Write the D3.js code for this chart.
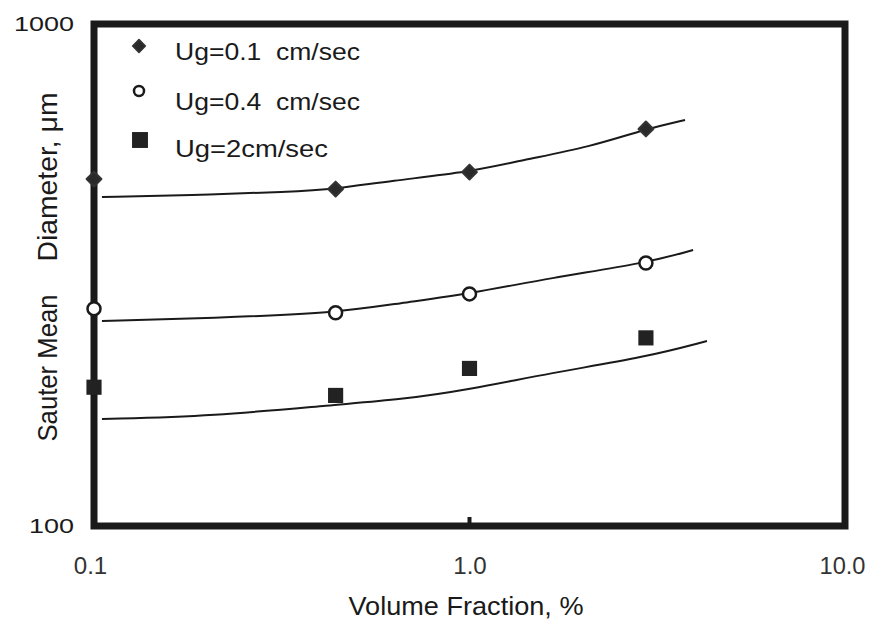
<!DOCTYPE html>
<html>
<head>
<meta charset="utf-8">
<script src="https://cdn.jsdelivr.net/npm/d3@7"></script>
<style>
  html, body { margin: 0; padding: 0; background: #fff; }
  svg text { font-family: "Liberation Sans", Arial, Helvetica, sans-serif; white-space: pre; }
</style>
</head>
<body>
<svg id="chart" width="877" height="626"></svg>
<script>
// Measured Sauter mean diameters (µm) against dispersed-phase volume fraction (%)
const volumeFraction = [0.1, 0.44, 1.0, 2.95];
const sauterUg01 = [491, 469, 507, 618];   // Ug = 0.1 cm/sec
const sauterUg04 = [271, 266, 290, 334];   // Ug = 0.4 cm/sec
const sauterUg2  = [189, 182, 206, 237];   // Ug = 2 cm/sec

// Correlation curves drawn through each data set
const fitUg01X = [0.105, 0.18, 0.333, 0.44, 0.614, 1.0, 1.389, 2.094, 2.95, 3.75];
const fitUg01Y = [452, 456, 463, 469, 487, 507, 536, 569, 618, 644];
const fitUg04X = [0.105, 0.207, 0.44, 0.653, 1.0, 1.639, 2.95, 3.94];
const fitUg04Y = [256, 259.6, 265.7, 278, 290, 312, 334, 354.6];
const fitUg2X  = [0.105, 0.207, 0.44, 0.653, 1.0, 1.639, 2.95, 4.29];
const fitUg2Y  = [163.3, 165.6, 174.5, 178.5, 187, 201.7, 217, 233.6];

const seriesLabels = ["Ug=0.1  cm/sec", "Ug=0.4  cm/sec", "Ug=2cm/sec"];
const xTickValues = [0.1, 1.0, 10.0];
const yTickValues = [100, 1000];

const svg = d3.select("#chart");

const x = d3.scaleLog().domain([0.1, 10]).range([94, 845]);
const y = d3.scaleLog().domain([100, 1000]).range([526, 24]);

const ink = "#1a1a1a";

// Plot frame
svg.append("rect")
  .attr("x", x(0.1)).attr("y", y(1000))
  .attr("width", x(10) - x(0.1)).attr("height", y(100) - y(1000))
  .attr("fill", "none").attr("stroke", ink).attr("stroke-width", 7);

// Single interior tick at 1.0 on the bottom edge
svg.append("line")
  .attr("x1", x(1)).attr("x2", x(1))
  .attr("y1", y(100)).attr("y2", y(100) - 9)
  .attr("stroke", ink).attr("stroke-width", 4);

// Wide, stretched digits for the tick labels
const stretchWidth = s => s.length * 12.5 - (s.includes(".") ? 8 : 0);

// X axis tick labels
const xAxis = d3.axisBottom(x)
  .tickValues(xTickValues)
  .tickFormat(d3.format(".1f"))
  .tickSizeInner(0).tickSizeOuter(0).tickPadding(31);
const gx = svg.append("g").attr("transform", `translate(0,${y(100)})`).call(xAxis);
gx.select(".domain").remove();
gx.selectAll("text")
  .attr("font-size", 23.5).attr("fill", "#333")
  .attr("font-family", "Liberation Sans, Arial, sans-serif")
  .attr("textLength", function () { return stretchWidth(this.textContent) + 4; })
  .attr("lengthAdjust", "spacingAndGlyphs");
gx.selectAll(".tick").filter(d => d === 0.1).select("text").attr("dx", -4);
gx.selectAll(".tick").filter(d => d === 10).select("text").attr("dx", -3);

// Y axis tick labels
const yAxis = d3.axisLeft(y)
  .tickValues(yTickValues)
  .tickFormat(d3.format("d"))
  .tickSizeInner(0).tickSizeOuter(0).tickPadding(20);
const gy = svg.append("g").attr("transform", `translate(${x(0.1)},0)`).call(yAxis);
gy.select(".domain").remove();
gy.selectAll("text")
  .attr("font-size", 21).attr("fill", ink)
  .attr("font-family", "Liberation Sans, Arial, sans-serif")
  .attr("textLength", function () { return this.textContent.length * 15; })
  .attr("lengthAdjust", "spacingAndGlyphs");

// Axis titles
svg.append("text")
  .attr("x", 466).attr("y", 615)
  .attr("text-anchor", "middle")
  .attr("font-size", 25).attr("fill", ink)
  .attr("textLength", 235).attr("lengthAdjust", "spacingAndGlyphs")
  .text("Volume Fraction, %");

const yTitle = svg.append("g").attr("transform", "translate(57,0) rotate(-90)");
yTitle.append("text")
  .attr("x", -368).attr("y", 0)
  .attr("text-anchor", "middle")
  .attr("font-size", 28).attr("fill", ink)
  .attr("textLength", 147).attr("lengthAdjust", "spacingAndGlyphs")
  .text("Sauter Mean");
yTitle.append("text")
  .attr("x", -177).attr("y", 0)
  .attr("text-anchor", "middle")
  .attr("font-size", 28).attr("fill", ink)
  .attr("textLength", 169).attr("lengthAdjust", "spacingAndGlyphs")
  .text("Diameter, μm");

// Fitted curves
const curveLine = d3.line()
  .x(d => x(d[0])).y(d => y(d[1]))
  .curve(d3.curveBasis);
const fits = [
  d3.zip(fitUg01X, fitUg01Y),
  d3.zip(fitUg04X, fitUg04Y),
  d3.zip(fitUg2X, fitUg2Y)
];
svg.append("g").selectAll("path").data(fits).join("path")
  .attr("d", curveLine)
  .attr("fill", "none").attr("stroke", ink).attr("stroke-width", 2);

// Marker drawing helpers
const diamondPath = d3.symbol(d3.symbolSquare, 110)();
const squarePath = d3.symbol(d3.symbolSquare, 230)();

function drawDiamond(g, cx, cy, scale) {
  g.append("path").attr("d", diamondPath)
    .attr("transform", `translate(${cx},${cy}) rotate(45) scale(${scale})`)
    .attr("fill", "#2a2a2a").attr("stroke", "#333").attr("stroke-width", 2)
    .attr("stroke-linejoin", "round");
}
function drawCircle(g, cx, cy, r) {
  g.append("circle").attr("cx", cx).attr("cy", cy).attr("r", r)
    .attr("fill", "#fff").attr("stroke", ink).attr("stroke-width", 2.5);
}
function drawSquare(g, cx, cy, scale) {
  g.append("path").attr("d", squarePath)
    .attr("transform", `translate(${cx},${cy}) scale(${scale})`)
    .attr("fill", "#222");
}

const marks = svg.append("g");
volumeFraction.forEach((v, i) => {
  drawDiamond(marks, x(v), y(sauterUg01[i]), 1);
  drawCircle(marks, x(v), y(sauterUg04[i]), 6.5);
  drawSquare(marks, x(v), y(sauterUg2[i]), 1);
});

// Legend
const legend = svg.append("g");
drawDiamond(legend, 139, 46, 0.85);
drawCircle(legend, 139, 91, 5);
drawSquare(legend, 140, 140, 1.05);
const legendRows = [60, 110, 157];
const legendWidths = [185, 185, 153];
seriesLabels.forEach((label, i) => {
  legend.append("text")
    .attr("x", 175).attr("y", legendRows[i])
    .attr("font-size", 24).attr("fill", ink)
    .attr("textLength", legendWidths[i]).attr("lengthAdjust", "spacingAndGlyphs")
    .text(label);
});
</script>
</body>
</html>
